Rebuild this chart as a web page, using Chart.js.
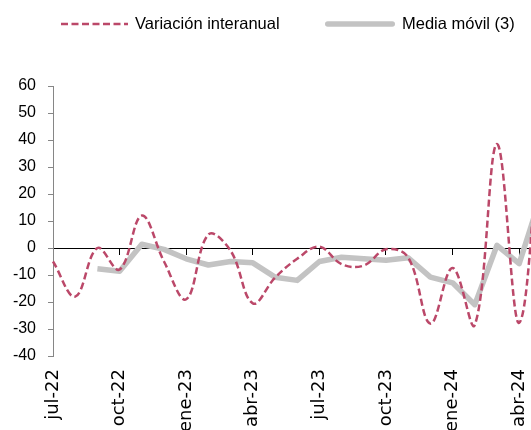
<!DOCTYPE html>
<html>
<head>
<meta charset="utf-8">
<script src="https://cdn.jsdelivr.net/npm/chart.js@4"></script>
<style>
  html, body { margin: 0; padding: 0; background: #fff; }
  #wrap { position: relative; width: 531px; height: 430px; overflow: hidden; }
  #chart { position: absolute; left: 0; top: 0; }
  #legend { position: absolute; left: 0; top: 0; width: 531px; height: 40px;
            font-family: "Liberation Sans", Arial, sans-serif; font-size: 16.5px; color: #000; }
  .item { position: absolute; top: 15px; display: flex; align-items: center; height: 17px; white-space: nowrap; }
  .item svg { margin-right: 7px; }
</style>
</head>
<body>
<div id="wrap">
  <canvas id="chart" width="560" height="472"></canvas>
  <div id="legend"></div>
</div>
<script>
// monthly labels, jul-22 .. may-24 (last one falls just past the right edge)
const months = ['jul-22', 'ago-22', 'sep-22', 'oct-22', 'nov-22', 'dic-22',
  'ene-23', 'feb-23', 'mar-23', 'abr-23', 'may-23', 'jun-23',
  'jul-23', 'ago-23', 'sep-23', 'oct-23', 'nov-23', 'dic-23',
  'ene-24', 'feb-24', 'mar-24', 'abr-24', 'may-24'];

const variacionInteranual = [-5, -18, 0, -8, 12, -5, -19, 5, -1, -20.5, -11, -4,
  0.5, -6, -6.5, -0.5, -3.5, -28, -7.4, -28.5, 38.5, -27.7, 52];

const mediaMovil = [null, null, -7.7, -8.6, 1.4, -0.5, -4, -6.3, -5, -5.5, -10.8, -12,
  -5, -3.4, -4, -4.5, -3.6, -10.8, -12.9, -21, 1, -5.8, 20];

const seriesNames = ['Variación interanual', 'Media móvil (3)'];
const yTicks = { min: -40, max: 60, step: 10 };

const RED = '#bb4869';
const GREY = '#c3c3c3';

Chart.defaults.font.family = '"Liberation Sans", Arial, sans-serif';
Chart.defaults.font.size = 16;
Chart.defaults.color = '#000';

const ctx = document.getElementById('chart');
const chart = new Chart(ctx, {
  type: 'line',
  data: {
    labels: months,
    datasets: [
      {
        label: seriesNames[0],
        data: variacionInteranual,
        xAxisID: 'x',
        borderColor: RED,
        borderWidth: 2.5,
        borderDash: [7, 3.5],
        tension: 0.38,
        pointRadius: 0,
        fill: false,
        order: 1
      },
      {
        label: seriesNames[1],
        data: mediaMovil,
        xAxisID: 'x',
        borderColor: GREY,
        borderWidth: 5.5,
        borderJoinStyle: 'round',
        tension: 0,
        pointRadius: 0,
        fill: false,
        order: 2
      }
    ]
  },
  options: {
    responsive: false,
    devicePixelRatio: 1,
    animation: false,
    layout: {
      padding: { left: 0, top: 86, right: 18.6, bottom: 0 }
    },
    scales: {
      x: {
        type: 'category',
        position: 'bottom',
        grid: { display: false, drawTicks: false },
        border: { display: false },
        ticks: {
          autoSkip: false,
          minRotation: 90,
          maxRotation: 90,
          padding: 13,
          font: { family: '"DejaVu Sans", sans-serif', size: 18 },
          callback: function (val, i) {
            return i % 3 === 0 ? this.getLabelForValue(val) : null;
          }
        },
        afterFit: (scale) => { scale.height = 116; }
      },
      // zero line with the quarterly tick marks
      x2: {
        type: 'category',
        axis: 'x',
        position: { y: 0 },
        grid: {
          drawOnChartArea: false,
          drawTicks: true,
          tickLength: 6,
          color: (c) => (c.index % 3 === 0 ? '#000' : 'rgba(0,0,0,0)')
        },
        border: { color: '#000', width: 1 },
        ticks: { display: false }
      },
      y: {
        min: yTicks.min,
        max: yTicks.max,
        ticks: { stepSize: yTicks.step, padding: 12 },
        grid: { drawOnChartArea: false, drawTicks: true, tickLength: 5, color: '#868686' },
        border: { color: '#868686', width: 1 },
        afterFit: (scale) => { scale.width = 53; }
      }
    },
    plugins: {
      legend: { display: false },
      tooltip: { enabled: false }
    }
  }
});

// html legend built from the datasets
const legendX = [61, 325];
const legendEl = document.getElementById('legend');
chart.data.datasets.forEach((ds, i) => {
  const item = document.createElement('div');
  item.className = 'item';
  item.style.left = legendX[i] + 'px';
  const w = i === 0 ? 67 : 70;
  const dash = ds.borderDash ? ds.borderDash.join(',') : 'none';
  const cap = ds.borderDash ? 'butt' : 'round';
  const inset = cap === 'round' ? ds.borderWidth / 2 : 0;
  item.innerHTML =
    `<svg width="${w}" height="8"><line x1="${inset}" y1="4" x2="${w - inset}" y2="4" ` +
    `stroke="${ds.borderColor}" stroke-width="${ds.borderWidth}" stroke-dasharray="${dash}" ` +
    `stroke-linecap="${cap}"/></svg><span>${ds.label}</span>`;
  legendEl.appendChild(item);
});
</script>
</body>
</html>
